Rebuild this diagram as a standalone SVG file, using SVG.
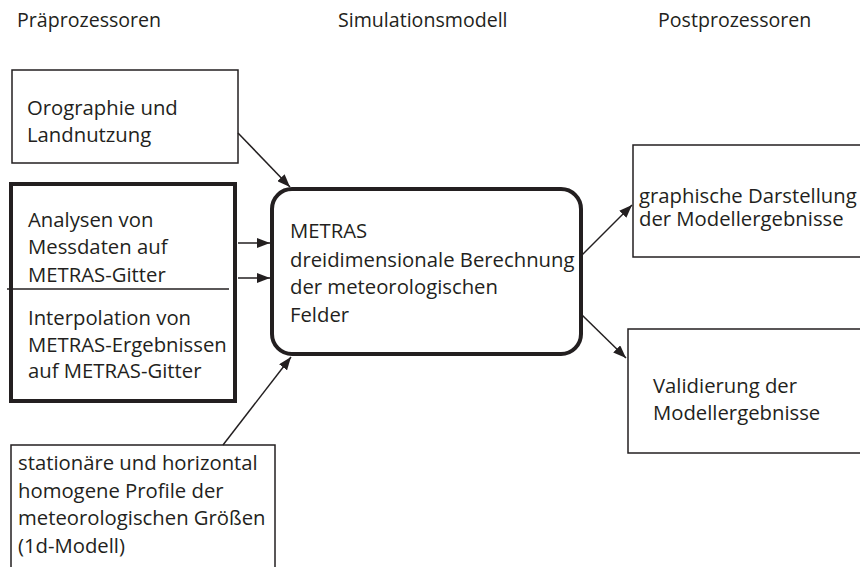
<svg xmlns="http://www.w3.org/2000/svg" width="860" height="567" viewBox="0 0 860 567">
<style>
text{font-family:"Open Sans","Liberation Sans",sans-serif;font-size:20.3px;fill:#231f20}
.hd{font-size:19.6px}
.thin{fill:#fff;stroke:#231f20;stroke-width:1.5}
.thick{fill:#fff;stroke:#231f20;stroke-width:4}
.con{stroke:#231f20;stroke-width:1.5;fill:none;marker-end:url(#ah)}
</style>
<defs>
<marker id="ah" markerUnits="userSpaceOnUse" markerWidth="14" markerHeight="10" refX="13" refY="5" orient="auto">
<path d="M0,0 L13,5 L0,10 Z" fill="#231f20"/>
</marker>
</defs>
<rect width="860" height="567" fill="#fff"/>
<g id="headers">
<text class="hd" x="17" y="27">Präprozessoren</text>
<text class="hd" x="338" y="27">Simulationsmodell</text>
<text class="hd" x="658" y="27">Postprozessoren</text>
</g>
<g id="orographie">
<rect class="thin" x="12" y="70" width="226" height="93"/>
<text x="27" y="115">Orographie und</text>
<text x="27" y="142">Landnutzung</text>
</g>
<g id="analysen">
<rect class="thick" x="11" y="184" width="224" height="217"/>
<line x1="7" y1="289" x2="229" y2="289" stroke="#231f20" stroke-width="1.5"/>
<text x="28" y="227">Analysen von</text>
<text x="28" y="254">Messdaten auf</text>
<text x="28" y="282">METRAS-Gitter</text>
<text x="28" y="325">Interpolation von</text>
<text x="28" y="352">METRAS-Ergebnissen</text>
<text x="28" y="378">auf METRAS-Gitter</text>
</g>
<g id="metras">
<rect class="thick" x="272" y="189" width="309" height="165" rx="20"/>
<text x="290" y="238">METRAS</text>
<text x="290" y="267">dreidimensionale Berechnung</text>
<text x="290" y="294">der meteorologischen</text>
<text x="290" y="322">Felder</text>
</g>
<g id="profile">
<rect class="thin" x="11" y="445" width="264" height="130"/>
<text x="18" y="470">stationäre und horizontal</text>
<text x="18" y="498">homogene Profile der</text>
<text x="18" y="525">meteorologischen Größen</text>
<text x="18" y="553">(1d-Modell)</text>
</g>
<g id="graphik">
<rect class="thin" x="633" y="145" width="240" height="112"/>
<text x="639" y="203">graphische Darstellung</text>
<text x="639" y="226">der Modellergebnisse</text>
</g>
<g id="validierung">
<rect class="thin" x="628" y="329" width="240" height="124"/>
<text x="653" y="393">Validierung der</text>
<text x="653" y="420">Modellergebnisse</text>
</g>
<g id="connectors">
<line class="con" x1="238" y1="133" x2="290" y2="187"/>
<line class="con" x1="238" y1="243" x2="270" y2="243"/>
<line class="con" x1="238" y1="278" x2="270" y2="278"/>
<line class="con" x1="223" y1="445" x2="291" y2="357"/>
<line class="con" x1="582" y1="255" x2="632" y2="205"/>
<line class="con" x1="582" y1="315" x2="626" y2="358"/>
</g>
</svg>
